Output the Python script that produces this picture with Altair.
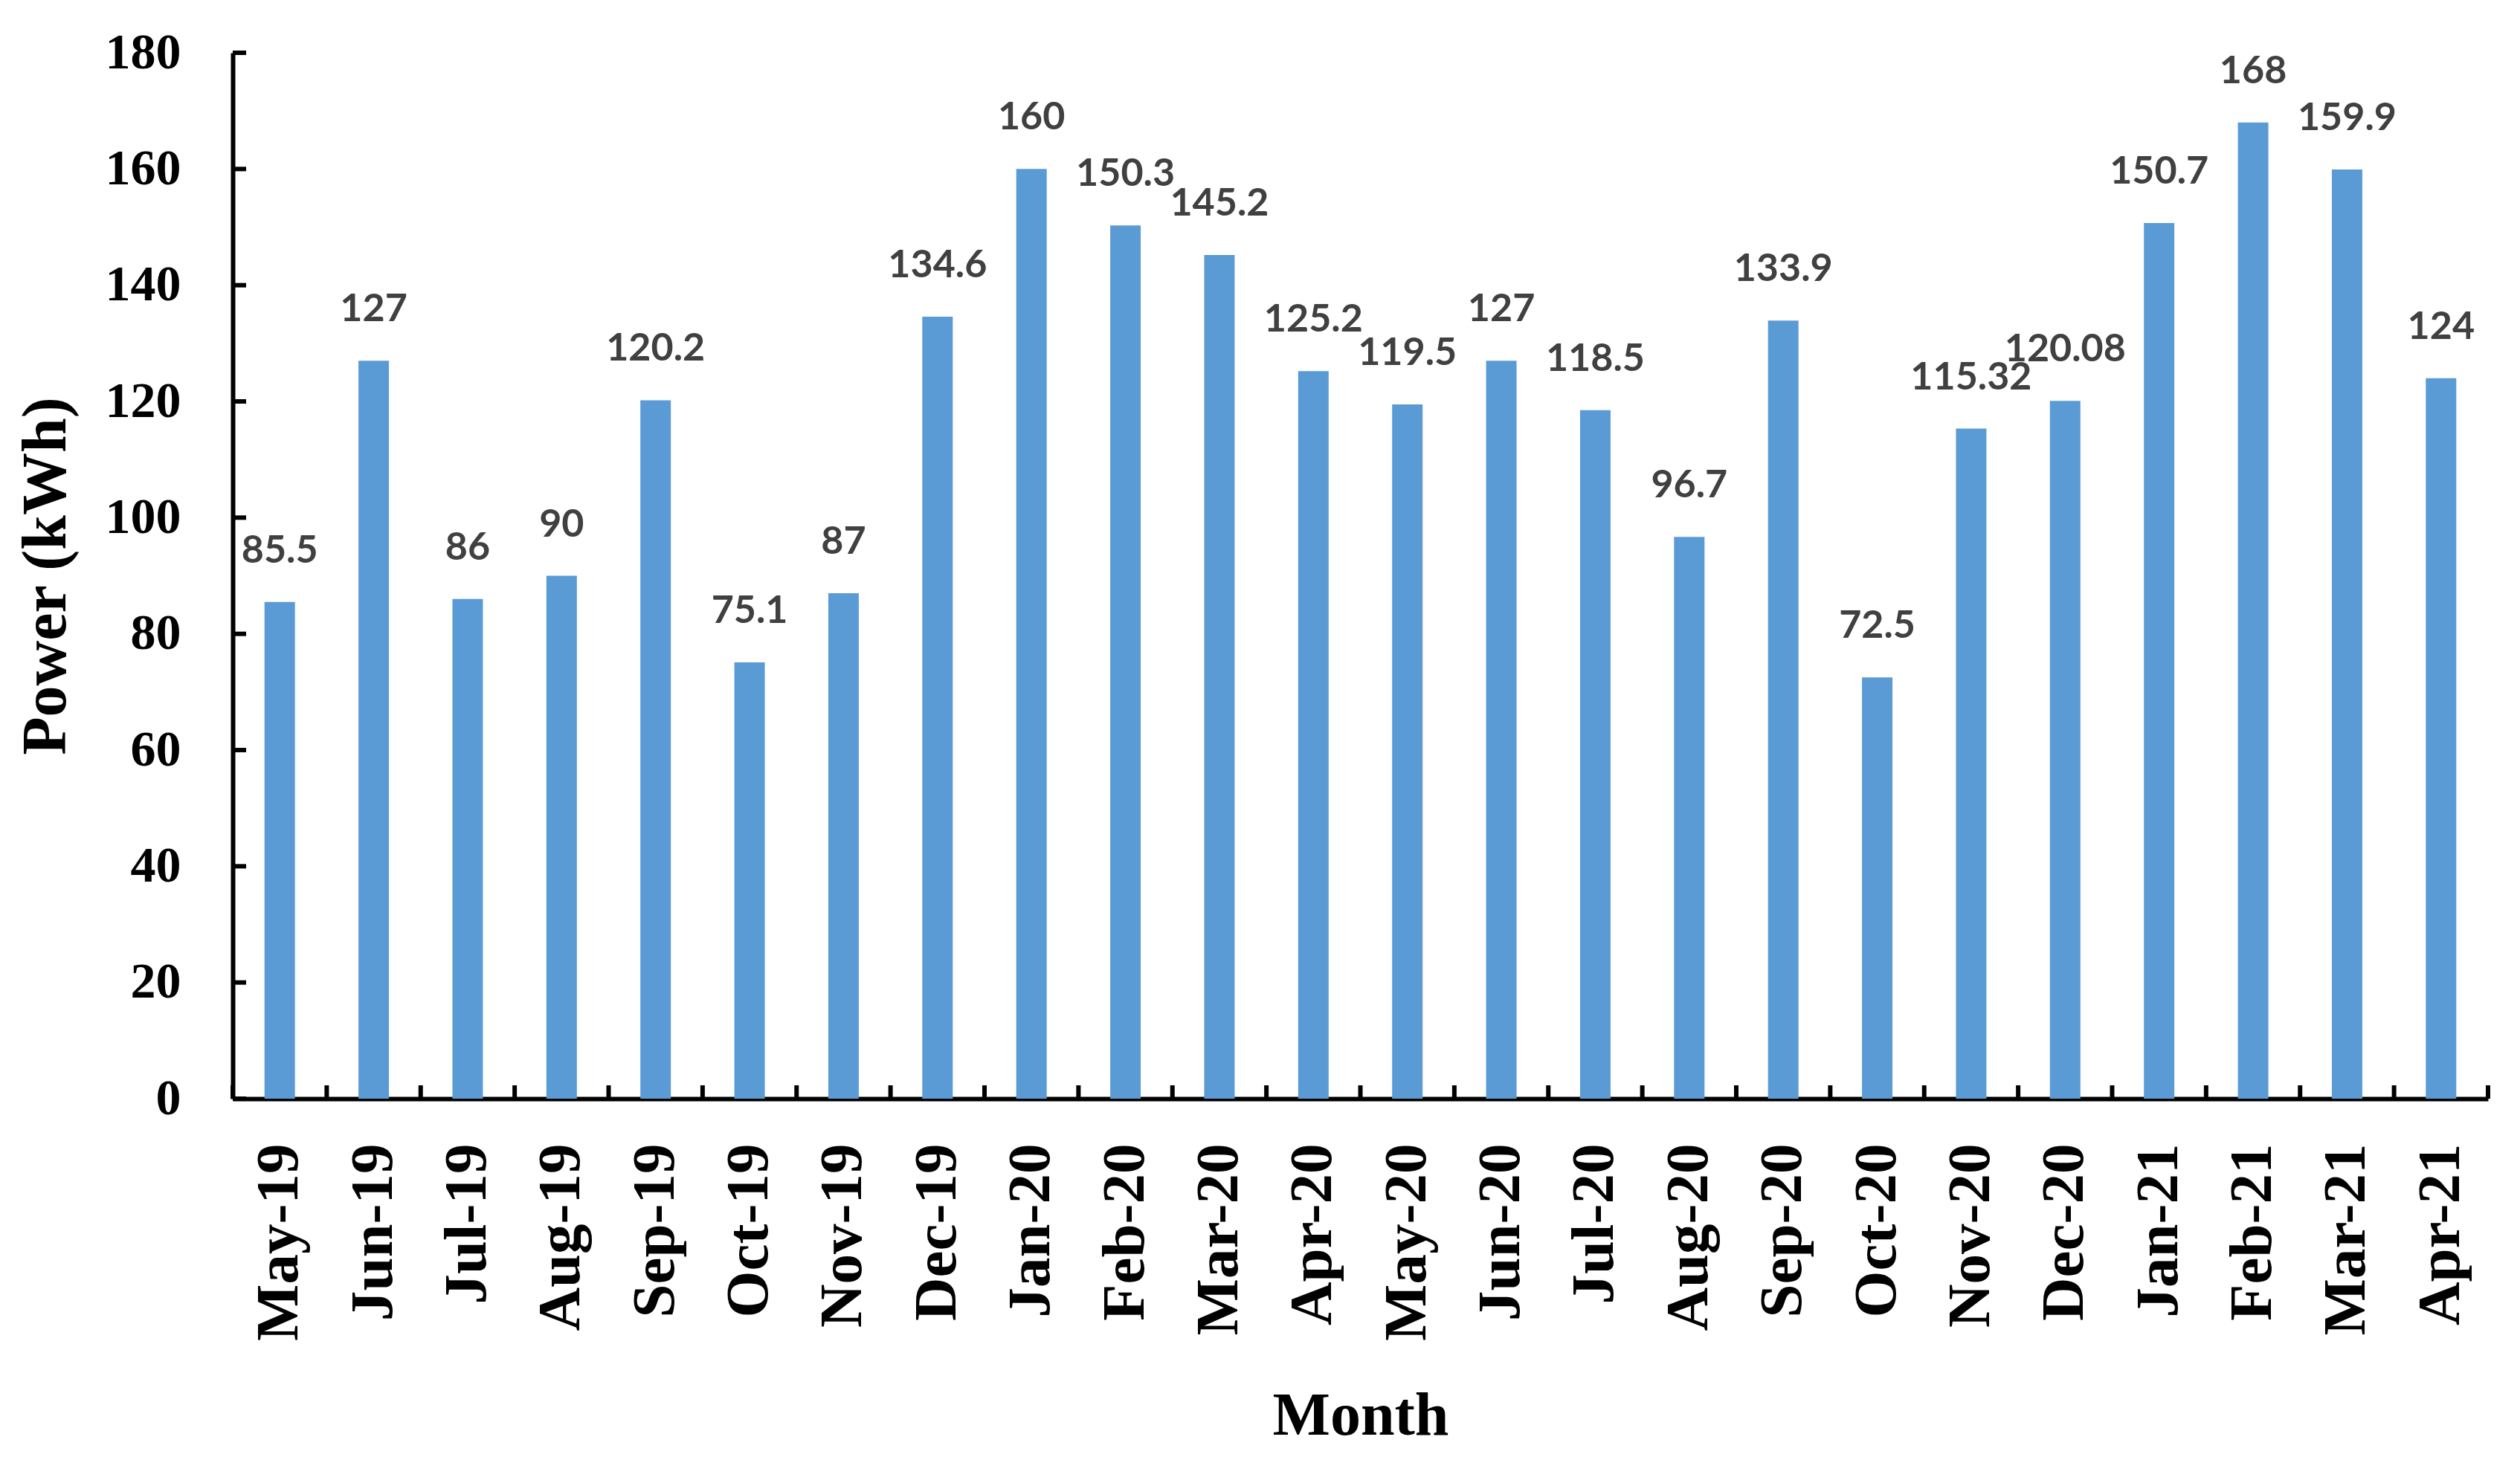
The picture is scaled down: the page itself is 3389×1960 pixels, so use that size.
import altair as alt
import pandas as pd

months = ["May-19", "Jun-19", "Jul-19", "Aug-19", "Sep-19", "Oct-19", "Nov-19", "Dec-19",
          "Jan-20", "Feb-20", "Mar-20", "Apr-20", "May-20", "Jun-20", "Jul-20", "Aug-20",
          "Sep-20", "Oct-20", "Nov-20", "Dec-20", "Jan-21", "Feb-21", "Mar-21", "Apr-21"]
values = [85.5, 127, 86, 90, 120.2, 75.1, 87, 134.6,
          160, 150.3, 145.2, 125.2, 119.5, 127, 118.5, 96.7,
          133.9, 72.5, 115.32, 120.08, 150.7, 168, 159.9, 124]
labels = ["85.5", "127", "86", "90", "120.2", "75.1", "87", "134.6",
          "160", "150.3", "145.2", "125.2", "119.5", "127", "118.5", "96.7",
          "133.9", "72.5", "115.32", "120.08", "150.7", "168", "159.9", "124"]
y_ticks = [0, 20, 40, 60, 80, 100, 120, 140, 160, 180]

df = pd.DataFrame({"month": months, "value": values, "label": labels})
df_last = df.tail(1)
df_ticks = pd.DataFrame({"t": y_ticks})

SERIF = "Liberation Serif"
W, H = 3033, 1407

x_enc = alt.X("month:N", sort=months,
              scale=alt.Scale(paddingInner=0, paddingOuter=0),
              axis=alt.Axis(title="Month", labelAngle=-90, labelFont=SERIF, labelFontSize=81,
                            labelFontWeight="bold", labelColor="black", labelPadding=60,
                            labelLimit=0, labelOverlap=False,
                            tickSize=0, domainColor="black", domainWidth=6,
                            titleFont=SERIF, titleFontSize=82, titleFontWeight="bold",
                            titleColor="black", titlePadding=186, grid=False))
y_enc = alt.Y("value:Q", scale=alt.Scale(domain=[0, 180], nice=False),
              axis=alt.Axis(title="Power (kWh)", values=y_ticks, labelFont=SERIF, labelFontSize=68,
                            labelFontWeight="bold", labelColor="black", labelPadding=70,
                            tickSize=0, domainColor="black", domainWidth=6,
                            titleFont=SERIF, titleFontSize=84, titleFontWeight="bold",
                            titleColor="black", titlePadding=36, grid=False))

bars = alt.Chart(df).mark_bar(size=41, color="#5B9BD5").encode(x=x_enc, y=y_enc)

text = alt.Chart(df).mark_text(font="Lato", fontWeight="bold", fontSize=52, color="#404040",
                               baseline="bottom", dy=-42).encode(
    x=alt.X("month:N", sort=months), y="value:Q", text="label:N")

xticks = alt.Chart(df).mark_rule(color="black", strokeWidth=6, y2Offset=-18).encode(
    x=alt.X("month:N", sort=months, bandPosition=0), y=alt.datum(0), y2=alt.datum(0))
xtick_end = alt.Chart(df_last).mark_rule(color="black", strokeWidth=6, y2Offset=-18).encode(
    x=alt.X("month:N", sort=months, bandPosition=1), y=alt.datum(0), y2=alt.datum(0))

yticks = alt.Chart(df_ticks).mark_rule(color="black", strokeWidth=6).encode(
    y="t:Q", x=alt.value(0), x2=alt.value(18))

chart = alt.layer(bars, text, xticks, xtick_end, yticks).properties(
    width=W, height=H,
    autosize=alt.AutoSizeParams(type="none"),
    padding={"left": 305, "top": 63, "right": 35, "bottom": 470},
    background="white",
).configure_view(stroke=None)

chart.save("out.html", embed_options={"renderer": "svg", "actions": False})
